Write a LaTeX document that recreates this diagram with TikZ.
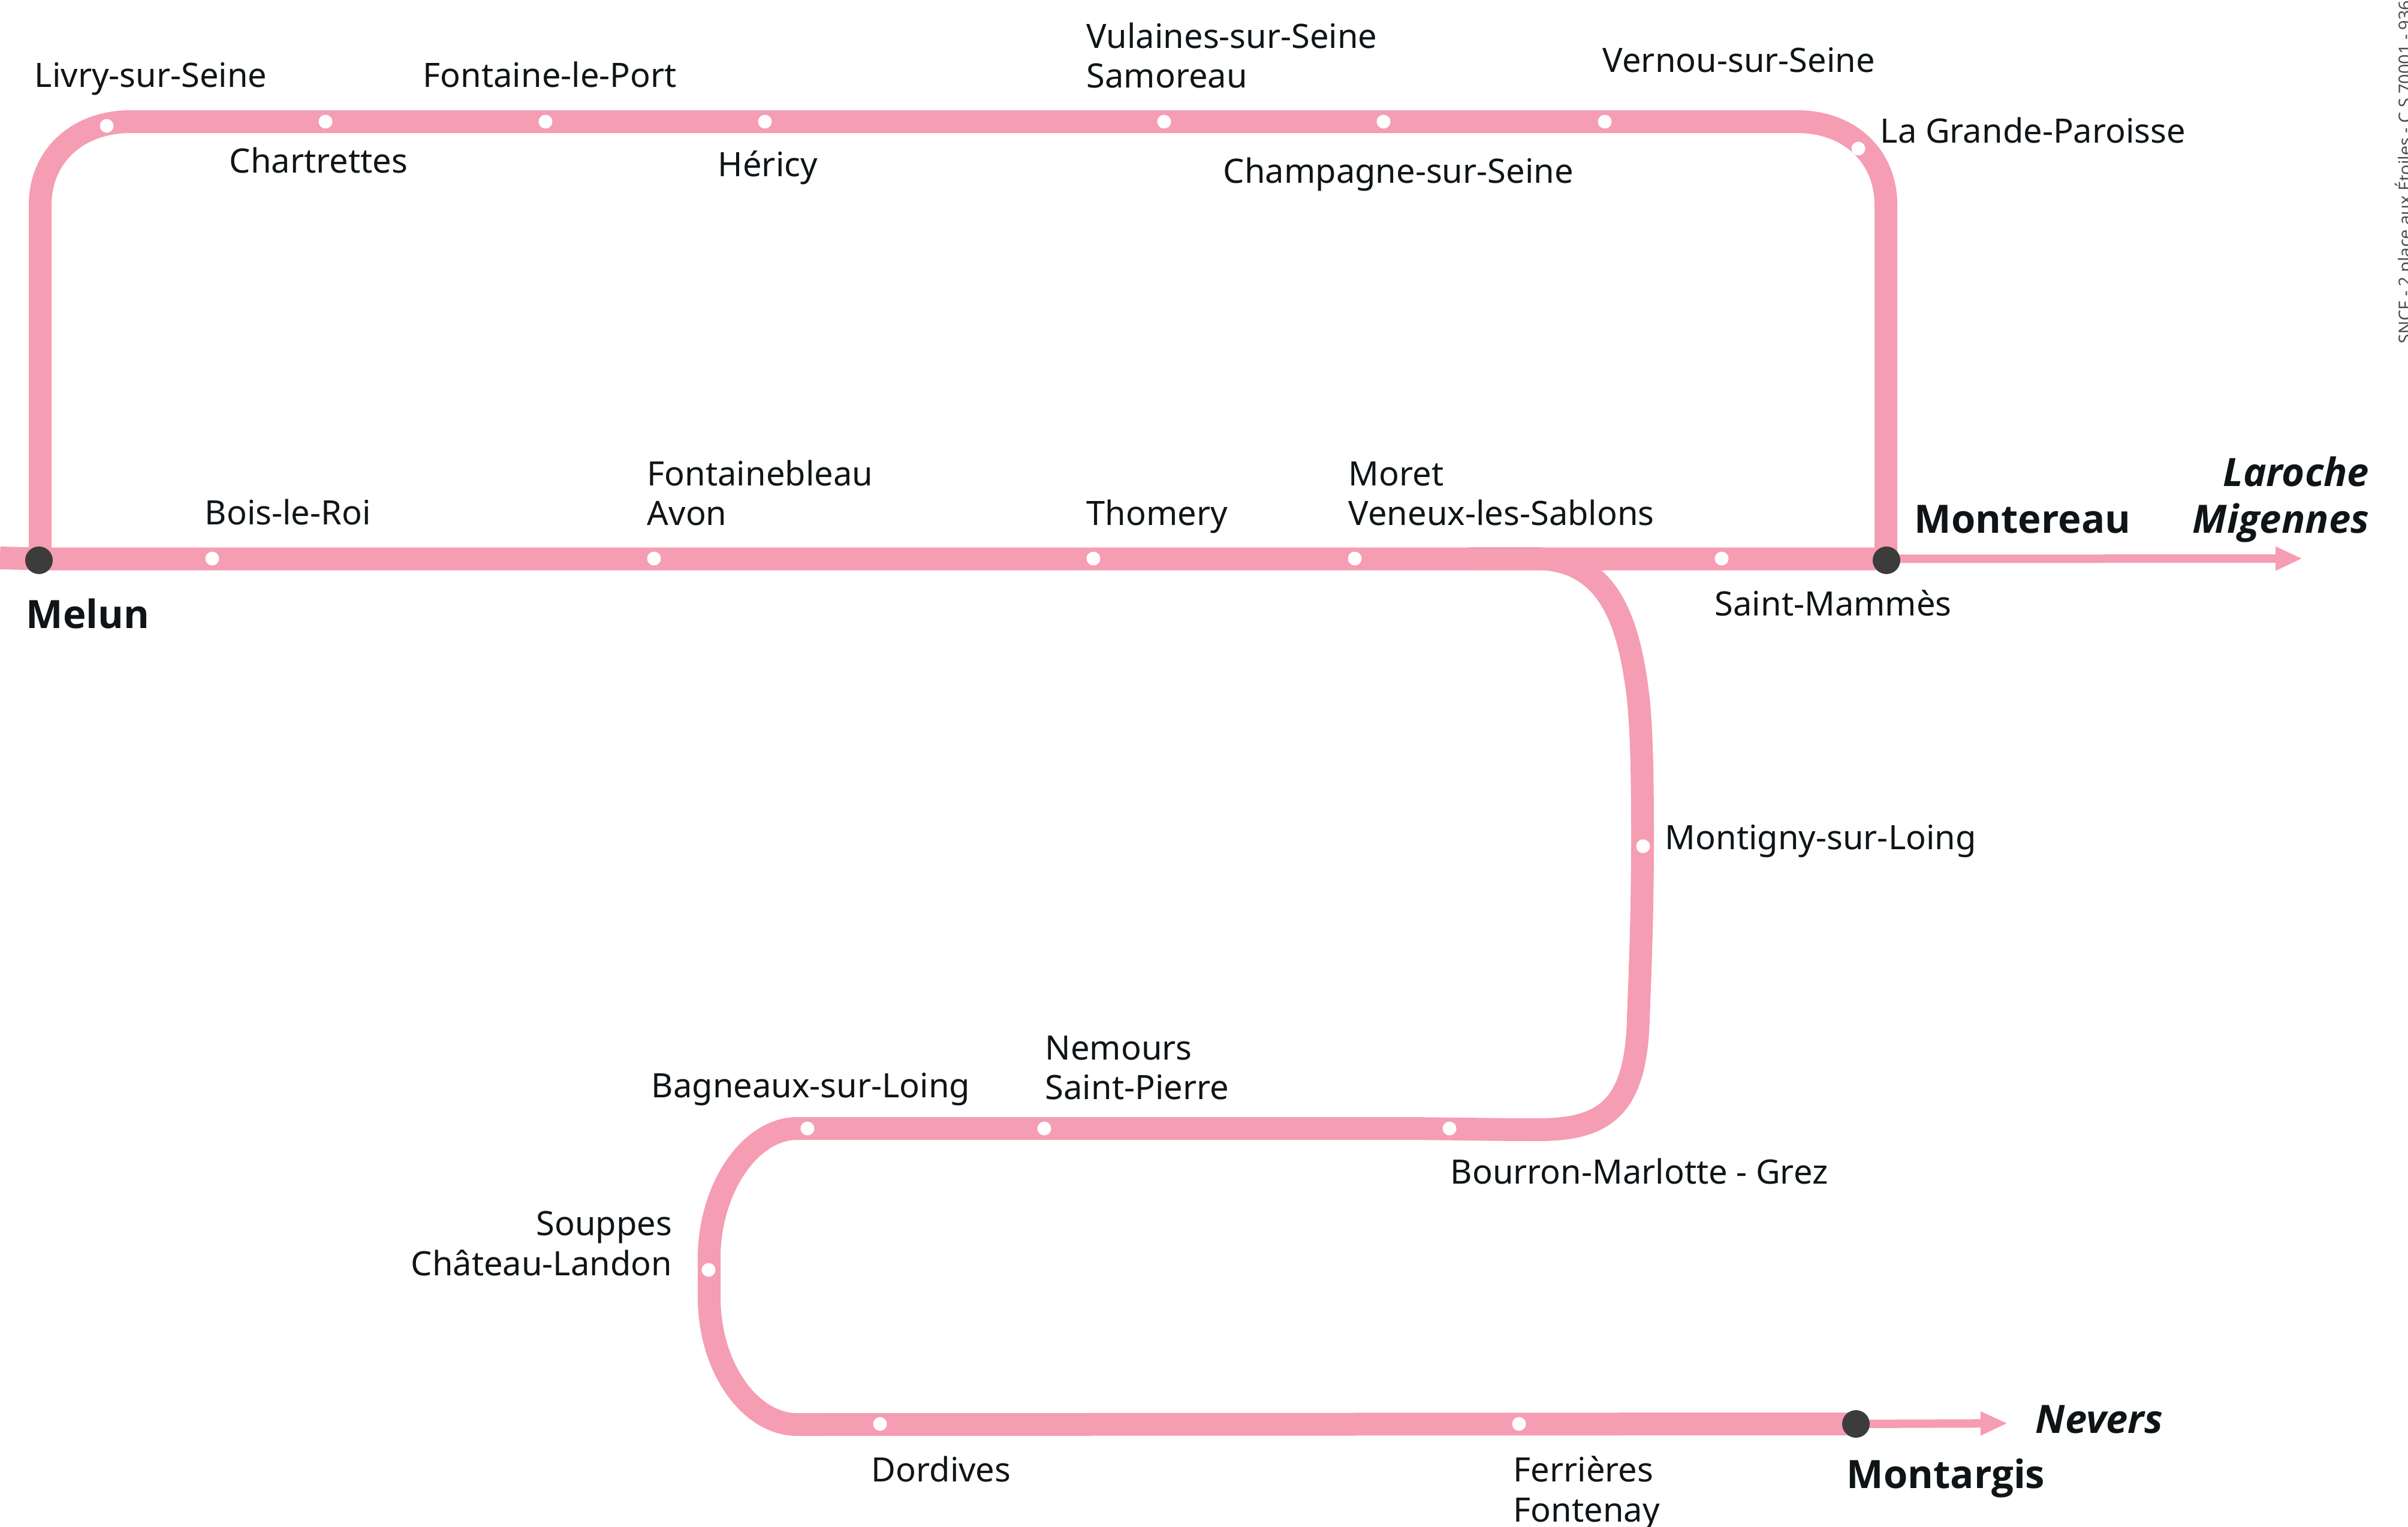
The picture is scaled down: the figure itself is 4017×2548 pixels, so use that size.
\documentclass[tikz,border=0pt]{standalone}
\usepackage{fontspec}
\setmainfont{Noto Sans}
\newfontfamily\grasfont{Open Sans}
\usetikzlibrary{arrows.meta}

\definecolor{rose}{HTML}{F59DB2}
\definecolor{encre}{HTML}{0F1417}
\definecolor{ardoise}{HTML}{3C3C3C}

\begin{document}
\begin{tikzpicture}[
    x=0.25pt, y=-0.25pt, % One unit is one pixel of the plan, y pointing down
    ligne/.style={line width=9.5pt, rose, line join=round}, % Style for the thick line
    suite/.style={-{Triangle[length=11.25pt, width=9.25pt]}, line width=3.5pt, rose}, % Style for the onward arrows
    arret/.style={circle, fill=white, inner sep=0pt, minimum size=5.75pt}, % Small station
    gare/.style={circle, fill=ardoise, inner sep=0pt, minimum size=11.5pt}, % Main station
    nom/.style={anchor=base west, inner sep=0pt, text=encre, font=\fontsize{14}{17}\selectfont}, % Station name
    nomgare/.style={nom, font=\grasfont\fontsize{16.3}{20}\selectfont\bfseries}, % Main station name
    direction/.style={nomgare, font=\grasfont\fontsize{16.3}{20}\selectfont\bfseries\itshape} % Onward direction
  ]

  \useasboundingbox (0,0) rectangle (4017,2548);

  % --- Coordinates ---
  \coordinate (entree) at (0,931);
  \coordinate (melun) at (67,932.5);
  \coordinate (montereau) at (3146,932.5);
  \coordinate (montargis) at (3096,2376);
  \coordinate (bif) at (2450,932);
  \coordinate (laroche) at (3841,932);
  \coordinate (nevers) at (3349,2375);

  % --- Lines ---
  \draw[ligne] (entree) -- (melun) -- (montereau); % Main line
  \draw[ligne] (melun) -- (67,342) .. controls (67,260) and (130,203) .. (217,203)
    -- (2998,203) .. controls (3085,203) and (3146,260) .. (3146,342) -- (montereau); % Upper loop
  \draw[ligne] (bif) -- (2560,932) .. controls (2680,932) and (2715,1030) .. (2731,1150)
    .. controls (2739,1210) and (2740,1300) .. (2740,1400)
    .. controls (2740,1540) and (2735,1640) .. (2733,1700)
    .. controls (2729,1845) and (2680,1885) .. (2567,1885)
    .. controls (2480,1885) and (2400,1883) .. (2330,1883)
    -- (1330,1883) .. controls (1250,1883) and (1183,1985) .. (1183,2099)
    -- (1183,2165) .. controls (1183,2280) and (1250,2377) .. (1330,2377)
    -- (montargis); % Branch to the south
  \draw[suite] (montereau) -- (laroche);
  \draw[suite] (montargis) -- (nevers);

  % --- Stations ---
  \foreach \id/\px/\py in {livry/178/210, chartrettes/543/203, fontaineport/910/203,
      hericy/1276/203, vulaines/1942/203, champagne/2308/203, vernou/2677/203,
      paroisse/3100/248, bois/354/932, fontainebleau/1091/932, thomery/1824/932,
      moret/2260/932, mammes/2872/932, montigny/2741/1412, bourron/2418/1883,
      nemours/1742/1883, bagneaux/1347/1883, souppes/1182/2119, dordives/1468/2376,
      ferrieres/2534/2376} {
    \node[arret] (a-\id) at (\px,\py) {};
  }
  \node[gare, xshift=-0.5pt, yshift=-0.6pt] (g-melun) at (melun) {};
  \node[gare, xshift=0.25pt, yshift=-0.6pt] (g-montereau) at (montereau) {};
  \node[gare] (g-montargis) at (montargis) {};

  % --- Station names ---
  \foreach \id/\px/\py/\txt in {livry/57/145/Livry-sur-Seine, chartrettes/382/288/Chartrettes,
      fontaineport/705/145/Fontaine-le-Port, hericy/1197/294/Héricy,
      vulaines/1812/80/Vulaines-sur-Seine, samoreau/1812/146/Samoreau,
      vernou/2673/120/Vernou-sur-Seine, champagne/2040/305/Champagne-sur-Seine,
      paroisse/3136/238/La Grande-Paroisse, bois/341/875/Bois-le-Roi,
      fontainebleau/1079/810/Fontainebleau, avon/1079/876/Avon, thomery/1812/876/Thomery,
      moret/2249/810/Moret, veneux/2249/876/Veneux-les-Sablons, mammes/2860/1027/Saint-Mammès,
      montigny/2777/1417/Montigny-sur-Loing, nemours/1743/1768/Nemours,
      pierre/1743/1834/Saint-Pierre, bagneaux/1086/1831/Bagneaux-sur-Loing,
      bourron/2419/1975/Bourron-Marlotte - Grez, dordives/1453/2472/Dordives,
      ferrieres/2524/2472/Ferrières, fontenay/2524/2539/Fontenay} {
    \node[nom] (n-\id) at (\px,\py) {\txt};
  }
  \node[nom, anchor=base east] (n-souppes) at (1122,2061) {Souppes};
  \node[nom, anchor=base east] (n-landon) at (1122,2128) {Château-Landon};

  % --- Main stations and directions ---
  \node[nomgare] (n-melun) at (43,1048) {Melun};
  \node[nomgare] (n-montereau) at (3193,889) {Montereau};
  \node[nomgare] (n-montargis) at (3080,2483) {Montargis};
  \node[direction, anchor=base east] (d-laroche) at (3953,811) {Laroche};
  \node[direction, anchor=base east] (d-migennes) at (3953,889) {Migennes};
  \node[direction] (d-nevers) at (3395,2391) {Nevers};

  % --- Imprint, cut by the page edge ---
  \node[anchor=base west, rotate=90, inner sep=0pt, text=encre!75, font=\fontsize{7.2}{9}\selectfont] (imprint) at (4022,574) {SNCF - 2 place aux Étoiles - C S 70001 - 936};

\end{tikzpicture}
\end{document}
